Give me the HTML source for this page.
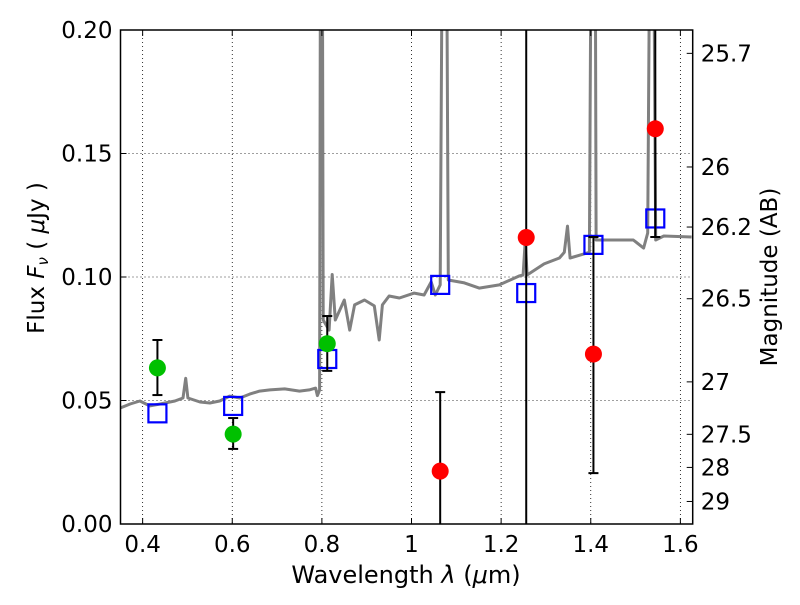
<!DOCTYPE html>
<html><head><meta charset="utf-8"><style>
body{margin:0;background:#fff}
svg text{font-family:"DejaVu Sans","Liberation Sans",sans-serif;fill:#000}
</style></head><body>
<svg id="chart" width="800" height="600" viewBox="0 0 800 600" xmlns="http://www.w3.org/2000/svg"></svg>
<script>
const specWave=[0.3506,0.372,0.394,0.416,0.439,0.472,0.490,0.496,0.501,0.528,0.550,0.572,0.594,0.617,0.639,0.661,0.684,0.717,0.750,0.772,0.786,0.790,0.795,0.797,0.801,0.803,0.816,0.823,0.830,0.850,0.862,0.873,0.895,0.917,0.928,0.935,0.950,0.973,1.006,1.028,1.044,1.053,1.064,1.069,1.078,1.082,1.118,1.151,1.196,1.240,1.249,1.254,1.258,1.296,1.330,1.341,1.348,1.354,1.397,1.401,1.410,1.412,1.450,1.495,1.518,1.527,1.532,1.540,1.545,1.563,1.625];
const specFlux=[0.047,0.0486,0.0498,0.0478,0.0486,0.0498,0.051,0.059,0.051,0.0494,0.049,0.0498,0.0518,0.051,0.0526,0.0538,0.0543,0.0547,0.0538,0.0543,0.055,0.052,0.0543,0.25,0.25,0.0826,0.0785,0.101,0.0826,0.0907,0.0785,0.0887,0.0907,0.0883,0.0745,0.0887,0.0923,0.0915,0.0935,0.0927,0.098,0.0927,0.0968,0.25,0.25,0.0988,0.0976,0.0955,0.0968,0.1004,0.1008,0.115,0.1008,0.1053,0.1077,0.110,0.1206,0.1077,0.110,0.25,0.25,0.115,0.115,0.115,0.1117,0.1178,0.25,0.25,0.115,0.1166,0.1162];
const greenWave=[0.433,0.602,0.812];
const greenFlux=[0.0632,0.0364,0.073];
const greenLo=[0.0522,0.0304,0.062];
const greenHi=[0.0745,0.0429,0.0842];
const redWave=[1.064,1.256,1.406,1.544];
const redFlux=[0.0214,0.116,0.0688,0.16];
const redLo=[-0.01,-0.01,0.0206,0.1162];
const redHi=[0.0534,0.3,0.1162,0.3];
const modelWave=[0.433,0.602,0.812,1.064,1.256,1.406,1.544];
const modelFlux=[0.0448,0.0478,0.0668,0.0968,0.0935,0.113,0.1237];
const xTicks=[0.4,0.6,0.8,1.0,1.2,1.4,1.6];
const xTickLabels=["0.4","0.6","0.8","1","1.2","1.4","1.6"];
const yTicks=[0,0.05,0.1,0.15,0.2];
const yTickLabels=["0.00","0.05","0.10","0.15","0.20"];
const magTicks=[25.7,26,26.2,26.5,27,27.5,28,29];
const magLabels=["25.7","26","26.2","26.5","27","27.5","28","29"];

const L=120.5,R=692.7,T=30,B=524,XMIN=0.3506,XMAX=1.6275,YMIN=0,YMAX=0.2;
const X=v=>L+(v-XMIN)/(XMAX-XMIN)*(R-L);
const Y=v=>B-(v-YMIN)/(YMAX-YMIN)*(B-T);
const NS="http://www.w3.org/2000/svg";
const svg=document.getElementById('chart');
function mk(tag,attrs,parent){const e=document.createElementNS(NS,tag);for(const k in attrs)e.setAttribute(k,attrs[k]);(parent||svg).appendChild(e);return e;}

const defs=mk('defs',{});
const cp=mk('clipPath',{id:'clip'},defs);
mk('rect',{x:L,y:T,width:R-L,height:B-T},cp);

xTicks.forEach(v=>{const g=mk('line',{x1:X(v),x2:X(v),y1:T,y2:B,stroke:'#000','stroke-width':0.8,'stroke-dasharray':'1,3'});

});
yTicks.forEach(v=>{const g=mk('line',{x1:L,x2:R,y1:Y(v),y2:Y(v),stroke:'#000','stroke-width':0.8,'stroke-dasharray':'1,3'});

});

const plot=mk('g',{'clip-path':'url(#clip)'});



const d=specWave.map((w,i)=>(i?'L':'M')+X(w).toFixed(1)+','+Y(specFlux[i]).toFixed(1)).join(' ');
const sp=mk('path',{d:d,fill:'none',stroke:'#808080','stroke-width':3,'stroke-linejoin':'round'},plot);



function errbar(w,lo,hi,name){
  const x=X(w);
  const l=mk('line',{x1:x,x2:x,y1:Y(lo),y2:Y(hi),stroke:'#000','stroke-width':2},plot);
  
  
  [lo,hi].forEach(v=>{const c=mk('line',{x1:x-5,x2:x+5,y1:Y(v),y2:Y(v),stroke:'#000','stroke-width':2},plot);
  
  });
}
modelWave.forEach((w,i)=>{const s=mk('rect',{x:X(w)-9,y:Y(modelFlux[i])-9,width:18,height:18,fill:'none',stroke:'#0000ff','stroke-width':2.2},plot);

});
greenWave.forEach((w,i)=>{errbar(w,greenLo[i],greenHi[i],'green-errorbar');
const c=mk('circle',{cx:X(w),cy:Y(greenFlux[i]),r:8.5,fill:'#00c000'},plot);

});
redWave.forEach((w,i)=>{errbar(w,redLo[i],redHi[i],'red-errorbar');
const c=mk('circle',{cx:X(w),cy:Y(redFlux[i]),r:8.5,fill:'#ff0000'},plot);

});

const fr=mk('rect',{x:L,y:T,width:R-L,height:B-T,fill:'none',stroke:'#000','stroke-width':1.5});



xTicks.forEach((v,i)=>{
  mk('line',{x1:X(v),x2:X(v),y1:B,y2:B-6,stroke:'#000'});
  mk('line',{x1:X(v),x2:X(v),y1:T,y2:T+6,stroke:'#000'});
  const t=mk('text',{x:X(v),y:B+28,'text-anchor':'middle','font-size':23});t.textContent=xTickLabels[i];
  
  
});
yTicks.forEach((v,i)=>{
  mk('line',{x1:L,x2:L+6,y1:Y(v),y2:Y(v),stroke:'#000'});
  const t=mk('text',{x:L-8,y:Y(v)+8,'text-anchor':'end','font-size':23});t.textContent=yTickLabels[i];
  
  
});
magTicks.forEach((m,i)=>{
  const f=Math.pow(10,(23.9-m)/2.5);const y=Y(f);
  mk('line',{x1:R,x2:R-6,y1:y,y2:y,stroke:'#000'});
  const t=mk('text',{x:R+8,y:y+8,'font-size':23});t.textContent=magLabels[i];
  
  
});
</script>
<svg width="800" height="600" style="position:absolute;left:0;top:0" xmlns="http://www.w3.org/2000/svg">
<text x="406" y="583" text-anchor="middle" font-size="24" style="font-family:'DejaVu Sans',sans-serif">Wavelength  <tspan font-style="italic">λ</tspan> (<tspan font-style="italic">μ</tspan>m)</text>
<text transform="translate(44,258) rotate(-90)" text-anchor="middle" font-size="23" style="font-family:'DejaVu Sans',sans-serif">Flux  <tspan font-style="italic">F</tspan><tspan font-style="italic" font-size="15" dy="4">ν</tspan><tspan dy="-4">  (  </tspan><tspan font-style="italic">μ</tspan>Jy )</text>
<text transform="translate(777,277) rotate(-90)" text-anchor="middle" font-size="23" style="font-family:'DejaVu Sans',sans-serif">Magnitude (AB)</text>
</svg>
</body></html>
